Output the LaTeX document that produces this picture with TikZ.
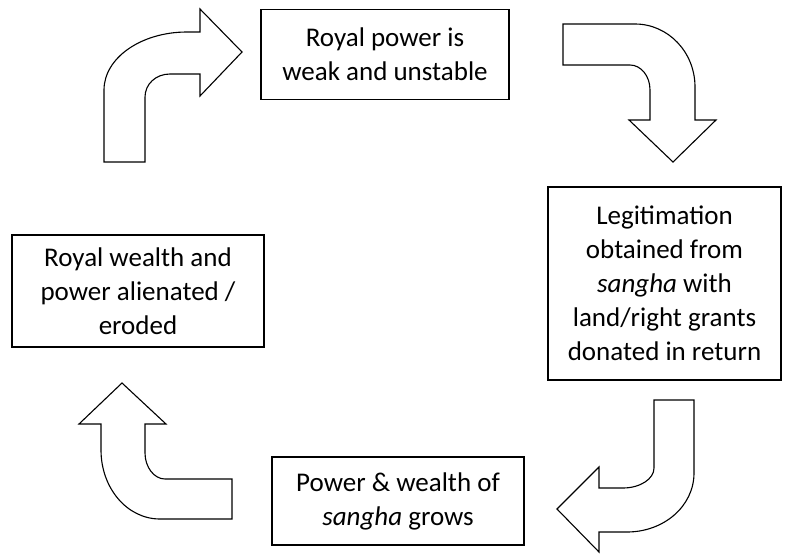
\documentclass[tikz,border=0pt]{standalone}
\usepackage{fontspec}
\setmainfont{Carlito}

\begin{document}
\begin{tikzpicture}[
x=1pt, y=-1pt,
block/.style={draw, line width=1.4pt, align=center, inner sep=0pt, font=\fontsize{27}{34}\selectfont},
turn/.style={draw, line width=1.1pt, fill=white, line join=miter}
]
\useasboundingbox (0,0) rectangle (791,554);

% --- Cycle stages ---
\node[block, minimum width=248, minimum height=90] (weak) at (385,54.5) {Royal power is\\weak and unstable};
\node[block, minimum width=233, minimum height=193] (legit) at (664.5,283.5) {Legitimation\\obtained from\\\textit{sangha} with\\land/right grants\\donated in return};
\node[block, minimum width=252, minimum height=88] (grows) at (398,501) {Power \& wealth of\\\textit{sangha} grows};
\node[block, minimum width=252, minimum height=112] (eroded) at (138,291) {Royal wealth and\\power alienated /\\eroded};

% --- Bent arrows ---
\draw[turn] (563,24) -- (635,24) .. controls (668,24) and (695,52) .. (695,87) -- (695,120) -- (716,120) -- (673,162) -- (629,120) -- (650,120) -- (650,90) .. controls (650,76) and (641,65) .. (630,65) -- (563,65) -- cycle;

\draw[turn] (654,400) -- (694,400) -- (694,473) .. controls (694,506) and (664,532) .. (627,532) -- (599,532) -- (599,552) -- (557,509) -- (599,467) -- (599,488) -- (623,488) .. controls (640,488) and (654,479) .. (654,468) -- cycle;

\draw[turn] (232,519) -- (160,519) .. controls (127,519) and (101,488) .. (101,450) -- (101,424) -- (79,424) -- (122,383) -- (166,424) -- (145,424) -- (145,453) .. controls (145,467) and (154,479) .. (165,479) -- (232,479) -- cycle;

\draw[turn] (104,162) -- (145,162) -- (145,97) .. controls (145,84) and (156,74) .. (170,74) -- (200,74) -- (200,96) -- (242,52) -- (200,9) -- (200,32) -- (187,32) .. controls (141,32) and (104,58) .. (104,90) -- cycle;

\end{tikzpicture}
\end{document}
